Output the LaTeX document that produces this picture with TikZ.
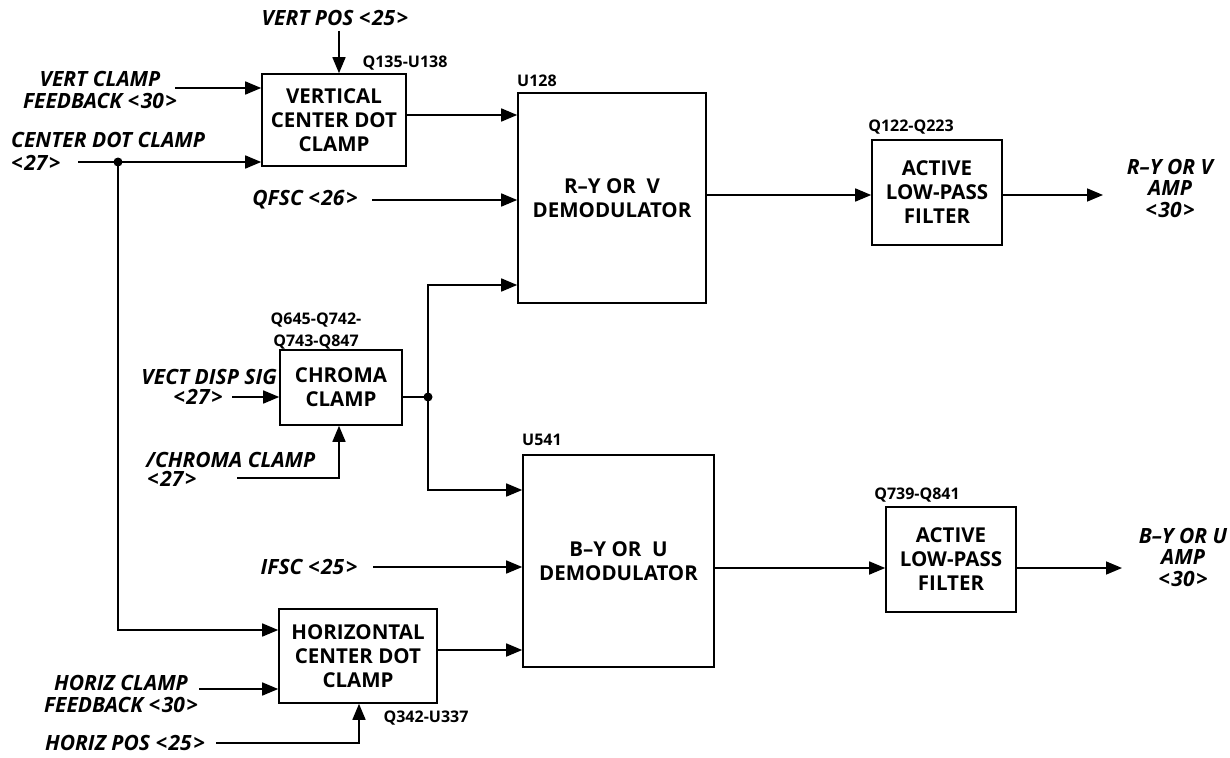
\documentclass[tikz,border=0pt]{standalone}
\usepackage{fontspec}
\setmainfont{Open Sans}
\usetikzlibrary{arrows.meta}
\newcommand{\sig}[1]{<\kern1.5pt#1\kern1.5pt>}
\tikzset{
  blk/.style={draw, line width=1.6pt, font=\bfseries\fontsize{20.5}{24}\selectfont, align=center, inner sep=0pt},
  lbl/.style={font=\bfseries\itshape\fontsize{21}{21.5}\selectfont, inner sep=0pt},
  partref/.style={font=\bfseries\fontsize{16}{22}\selectfont, inner sep=0pt},
  wire/.style={line width=1.6pt},
  arr/.style={wire, -{Triangle[length=16pt,width=13pt]}},
  jdot/.style={circle, fill=black, inner sep=0pt, minimum size=9pt}
}
\begin{document}
\begin{tikzpicture}[x=1pt,y=-1pt]
\fill[white] (0,0) rectangle (1230,757);
\useasboundingbox (0,0) rectangle (1230,757);

% blocks
\node[blk, minimum width=144pt, minimum height=92pt] (vcd) at (334,120) {VERTICAL\\CENTER DOT\\CLAMP};
\node[blk, minimum width=188pt, minimum height=210pt] (ry) at (612,198) {R--Y OR\ \ V\\DEMODULATOR};
\node[blk, minimum width=130pt, minimum height=105pt] (f1) at (937,192.5) {ACTIVE\\LOW-PASS\\FILTER};
\node[blk, minimum width=122pt, minimum height=75pt] (chroma) at (341,387.5) {CHROMA\\CLAMP};
\node[blk, minimum width=191pt, minimum height=212pt] (by) at (618.5,561) {B--Y OR\ \ U\\DEMODULATOR};
\node[blk, minimum width=130pt, minimum height=105pt] (f2) at (951,559.5) {ACTIVE\\LOW-PASS\\FILTER};
\node[blk, minimum width=158pt, minimum height=94pt] (hcd) at (358,656) {HORIZONTAL\\CENTER DOT\\CLAMP};

% part references
\node[partref] (r1) at (405,63) {Q135-U138};
\node[partref, anchor=west] (r2) at (517,81) {U128};
\node[partref] (r3) at (911,127) {Q122-Q223};
\node[partref, align=center] (r4) at (316,331) {Q645-Q742-\\Q743-Q847};
\node[partref, anchor=west] (r5) at (522,440) {U541};
\node[partref] (r6) at (917,495) {Q739-Q841};
\node[partref] (r7) at (426,718) {Q342-U337};

% labels
\node[lbl] (vpos) at (335,18) {VERT POS \sig{25}};
\node[lbl, align=center] (vcf) at (100,90) {VERT CLAMP\\FEEDBACK \sig{30}};
\node[lbl, anchor=west] (cdc) at (11,140) {CENTER DOT CLAMP};
\node[lbl, anchor=west] (cdc27) at (11,163) {\sig{27}};
\node[lbl] (qfsc) at (305,200) {QFSC \sig{26}};
\node[lbl, align=center] (ryout) at (1170,188) {R--Y OR V\\AMP\\\sig{30}};
\node[lbl, anchor=east] (vds) at (277,377) {VECT DISP SIG};
\node[lbl] (vds27) at (198,397) {\sig{27}};
\node[lbl, anchor=west] (cc) at (146,460) {/CHROMA CLAMP};
\node[lbl, anchor=west] (cc27) at (147,479) {\sig{27}};
\node[lbl] (ifsc) at (309,567) {IFSC \sig{25}};
\node[lbl, align=center] (hcf) at (121,694) {HORIZ CLAMP\\FEEDBACK \sig{30}};
\node[lbl] (hpos) at (125,743) {HORIZ POS \sig{25}};
\node[lbl, align=center] (byout) at (1183,557) {B--Y OR U\\AMP\\\sig{30}};

% junctions
\node[jdot] (j1) at (118,162) {};
\node[jdot] (j2) at (428,397) {};

% free ends / corners
\coordinate (vpa) at (339,31);
\coordinate (vcfa) at (175,88);
\coordinate (cdca) at (78,162);
\coordinate (jdn) at (118,630);
\coordinate (qfa) at (372,200);
\coordinate (ca) at (428,285);
\coordinate (cb) at (428,490);
\coordinate (vdsa) at (232,397);
\coordinate (cca) at (237,478);
\coordinate (ccb) at (339,478);
\coordinate (ifa) at (373,567);
\coordinate (hcfa) at (199,689);
\coordinate (hpa) at (216,743);
\coordinate (hpb) at (359,743);
\coordinate (ryo) at (1103,195);
\coordinate (byo) at (1122,568);

% connectors
\draw[arr] (vpa) -- (vpa |- vcd.north);
\draw[arr] (vcfa) -- (vcfa -| vcd.west);
\draw[arr] (cdca) -- (cdca -| vcd.west);
\draw[arr] (j1.center) -- (jdn) -- (jdn -| hcd.west);
\draw[arr] (vcd.east |- 0,115) -- (ry.west |- 0,115);
\draw[arr] (qfa) -- (qfa -| ry.west);
\draw[arr] (ry.east |- 0,195) -- (f1.west |- 0,195);
\draw[arr] (f1.east |- ryo) -- (ryo);
\draw[arr] (vdsa) -- (vdsa -| chroma.west);
\draw[wire] (chroma.east |- j2) -- (j2.center);
\draw[arr] (j2.center) -- (ca) -- (ca -| ry.west);
\draw[arr] (j2.center) -- (cb) -- (cb -| by.west);
\draw[arr] (cca) -- (ccb) -- (ccb |- chroma.south);
\draw[arr] (ifa) -- (ifa -| by.west);
\draw[arr] (hcd.east |- 0,650) -- (by.west |- 0,650);
\draw[arr] (hcfa) -- (hcfa -| hcd.west);
\draw[arr] (hpa) -- (hpb) -- (hpb |- hcd.south);
\draw[arr] (by.east |- 0,568) -- (f2.west |- 0,568);
\draw[arr] (f2.east |- byo) -- (byo);
\end{tikzpicture}
\end{document}
